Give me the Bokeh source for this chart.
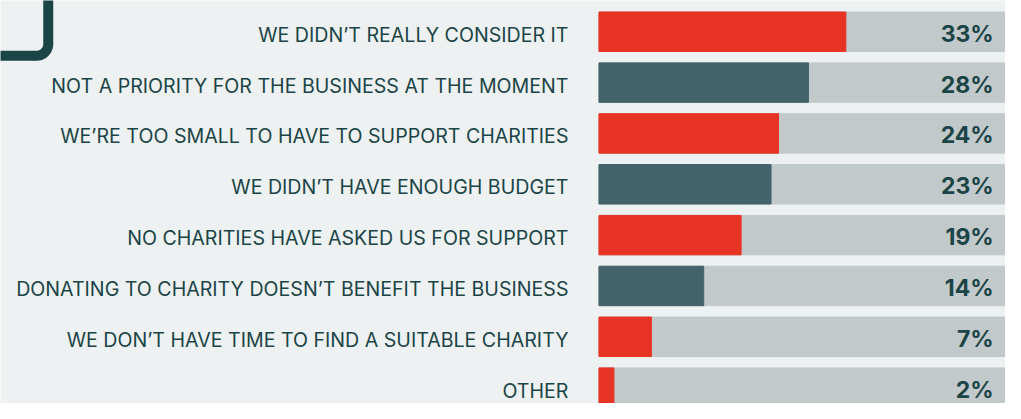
from bokeh.plotting import figure
from bokeh.models import Range1d, ColumnDataSource
from bokeh.core.properties import value
from bokeh.embed import file_html
from bokeh.resources import INLINE
import math

categories = [
    "WE DIDN’T REALLY CONSIDER IT",
    "NOT A PRIORITY FOR THE BUSINESS AT THE MOMENT",
    "WE’RE TOO SMALL TO HAVE TO SUPPORT CHARITIES",
    "WE DIDN’T HAVE ENOUGH BUDGET",
    "NO CHARITIES HAVE ASKED US FOR SUPPORT",
    "DONATING TO CHARITY DOESN’T BENEFIT THE BUSINESS",
    "WE DON’T HAVE TIME TO FIND A SUITABLE CHARITY",
    "OTHER",
]
values = [33, 28, 24, 23, 19, 14, 7, 2]
pct_labels = ["33%", "28%", "24%", "23%", "19%", "14%", "7%", "2%"]

RED = "#E63323"
TEAL = "#42636A"
GRAY = "#C1C9CB"
BG = "#EDF1F2"
DARK = "#1B4446"

bar_colors = [RED, TEAL, RED, TEAL, RED, TEAL, RED, RED]

W, H = 1005, 403
REF_W, REF_H = 1021.0, 419.0
x0_px, px_per = 608.0, 7.6
y0_px, step_px = 32.5, 52.86

def px2x(px):
    return (px - x0_px) / px_per

def px2y(py):
    return (py - y0_px) / step_px

ys = list(range(len(values)))

src = ColumnDataSource(dict(
    y=ys, v=values, cat=categories, pct=pct_labels, color=bar_colors,
    full=[100] * len(values),
))

p = figure(width=W, height=H, output_backend="svg", toolbar_location=None,
           x_range=Range1d(px2x(0), px2x(REF_W)),
           y_range=Range1d(px2y(REF_H), px2y(0)),
           min_border=0)
p.axis.visible = False
p.xgrid.visible = False
p.ygrid.visible = False
p.outline_line_color = None
p.background_fill_color = BG
p.border_fill_color = BG

bh = 41 / step_px
p.hbar(y="y", left=0, right="full", height=bh, color=GRAY, source=src)
p.hbar(y="y", left=0, right="v", height=bh, color="color", source=src)

p.text(x=px2x(577), y="y", text="cat", source=src, text_align="right",
       text_baseline="middle", text_font=value("Inter"), text_font_size="19.6px",
       text_color=DARK, y_offset=3)
p.text(x=px2x(1009), y="y", text="pct", source=src, text_align="right",
       text_baseline="middle", text_font=value("Inter"), text_font_size="23px",
       text_font_style="bold", text_color=DARK, y_offset=2)

# decorative rounded corner at top-left
cx, cy, r = 48.5 - 12, 57.5 - 12, 12
xs_px = [48.5, 48.5]
ys_px = [-10, cy]
for k in range(1, 10):
    a = math.pi / 2 * k / 9
    xs_px.append(cx + r * math.cos(a))
    ys_px.append(cy + r * math.sin(a))
xs_px += [-10]
ys_px += [57.5]
p.line([px2x(v) for v in xs_px], [px2y(v) for v in ys_px], line_width=10,
       line_color=DARK, line_join="round")

open("out.html", "w").write(file_html(p, INLINE))
